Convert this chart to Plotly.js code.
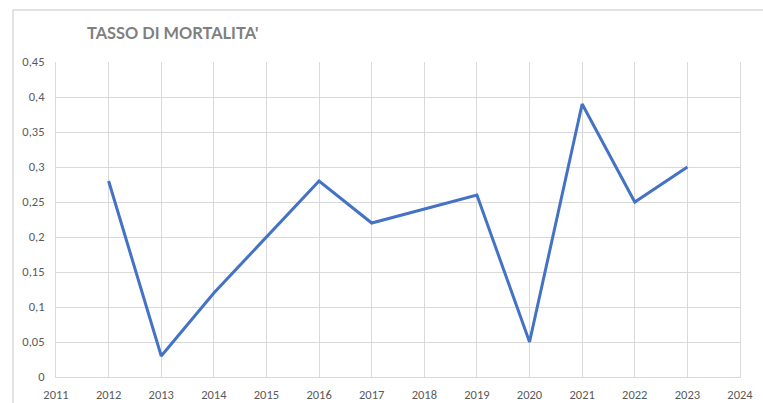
<!DOCTYPE html>
<html>
<head>
<meta charset="utf-8">
<script src="https://cdn.plot.ly/plotly-3.0.1.min.js"></script>
<style>html,body{margin:0;padding:0;background:#fff;}#chart{width:763px;height:403px;}</style>
</head>
<body>
<div id="chart"></div>
<script>
const years = [2012, 2013, 2014, 2015, 2016, 2017, 2018, 2019, 2020, 2021, 2022, 2023];
const mortalityRate = [0.28, 0.03, 0.12, 0.20, 0.28, 0.22, 0.24, 0.26, 0.05, 0.39, 0.25, 0.30];
const chartTitle = "TASSO DI MORTALITA'";

const trace = {
  x: years,
  y: mortalityRate,
  type: 'scatter',
  mode: 'lines',
  line: {color: '#4472C4', width: 3},
  hoverinfo: 'x+y'
};

const layout = {
  width: 763,
  height: 403,
  margin: {l: 56, r: 23, t: 62, b: 26},
  paper_bgcolor: '#ffffff',
  plot_bgcolor: '#ffffff',
  separators: ',.',
  showlegend: false,
  font: {family: 'Carlito, Calibri, "Liberation Sans", sans-serif', color: '#595959', size: 12},
  title: {
    text: '<b>' + chartTitle + '</b>',
    x: 87 / 763, xanchor: 'left',
    y: 1 - 33 / 403, yanchor: 'middle',
    font: {family: 'Lato, "Open Sans", sans-serif', size: 16.4, color: '#7f7f7f'}
  },
  xaxis: {
    range: [2011, 2024],
    tick0: 2011, dtick: 1,
    showgrid: true, gridcolor: '#d9d9d9', gridwidth: 1,
    zeroline: false, showline: true, linecolor: '#d9d9d9', linewidth: 1,
    ticks: '', ticklabelstandoff: 6,
    tickfont: {color: '#595959', size: 12.5},
    fixedrange: true
  },
  yaxis: {
    range: [0, 0.45],
    tick0: 0, dtick: 0.05,
    showgrid: true, gridcolor: '#d9d9d9', gridwidth: 1,
    zeroline: false, showline: true, linecolor: '#d9d9d9', linewidth: 1,
    mirror: true,
    ticks: '', ticklabelstandoff: 8,
    tickfont: {color: '#595959', size: 12.5},
    fixedrange: true
  },
  shapes: [{
    type: 'rect', xref: 'paper', yref: 'paper',
    x0: (13 - 56) / 684, x1: (800 - 56) / 684,
    y0: -1, y1: 1 + (62 - 10) / 315,
    line: {color: '#d9d9d9', width: 1.5},
    fillcolor: 'rgba(0,0,0,0)', layer: 'below'
  }]
};

Plotly.newPlot('chart', [trace], layout, {displayModeBar: false, staticPlot: true});
</script>
</body>
</html>
